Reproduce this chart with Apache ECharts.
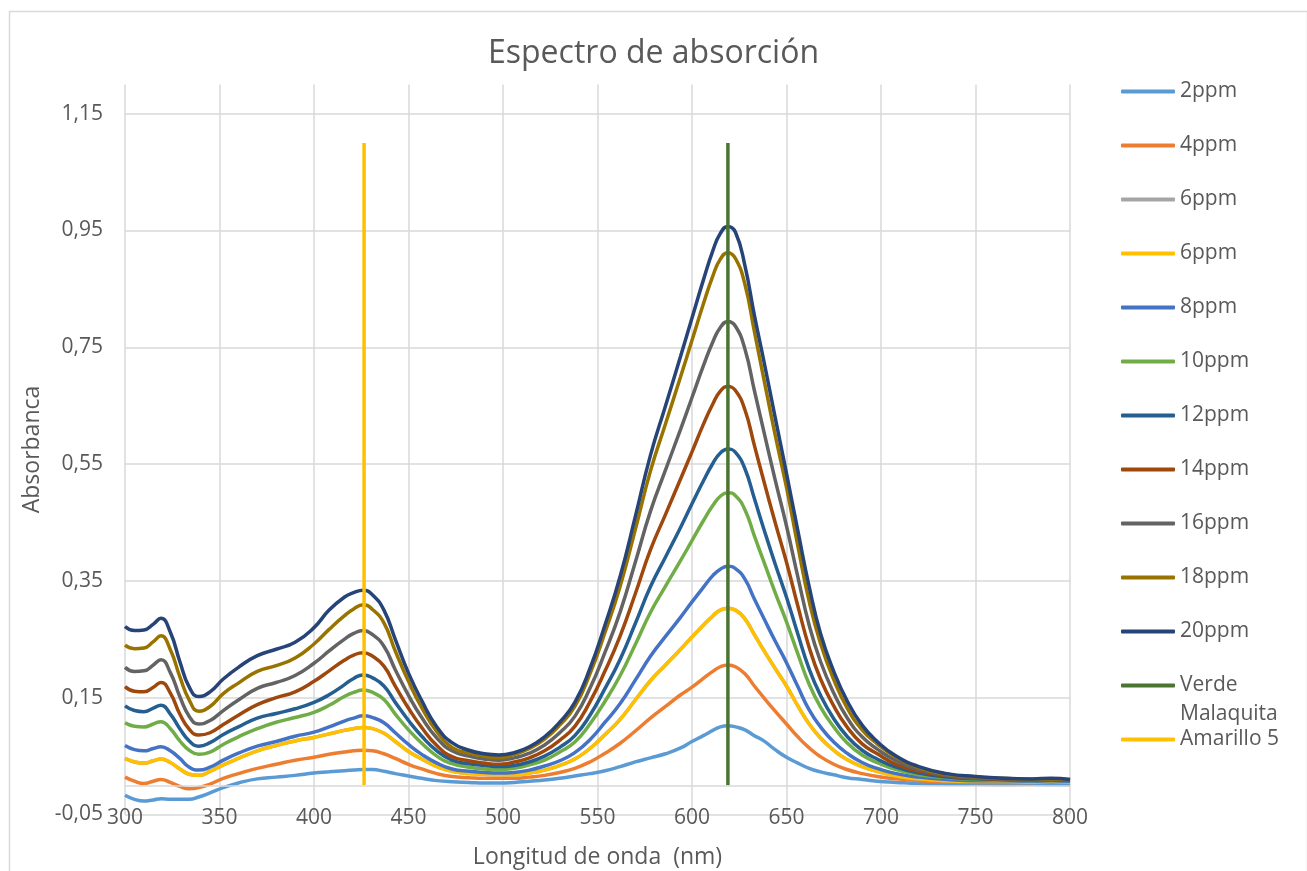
<!DOCTYPE html>
<html>
<head>
<meta charset="utf-8">
<script src="https://cdn.jsdelivr.net/npm/echarts@6/dist/echarts.min.js"></script>
<style>
html,body{margin:0;padding:0;background:#fff;}
#chart{width:1307px;height:871px;}
</style>
</head>
<body>
<div id="chart"></div>
<script>
// Wavelength grid (nm)
const wavelengths = [300, 305, 310, 315, 319, 324, 329, 334, 339, 345, 352, 360, 370, 380, 390, 400, 408, 416, 421, 426, 431, 437, 443, 450, 457, 465, 473, 482, 490, 498, 506, 514, 522, 530, 538, 546, 554, 562, 570, 578, 586, 594, 600, 606, 611, 615, 619, 623, 628, 633, 638, 644, 650, 656, 662, 668, 675, 682, 690, 698, 708, 720, 735, 750, 765, 780, 790, 800];

const s2ppm = [-0.017, -0.024, -0.027, -0.025, -0.023, -0.024, -0.024, -0.024, -0.020, -0.013, -0.004, 0.004, 0.011, 0.014, 0.017, 0.021, 0.023, 0.025, 0.026, 0.027, 0.027, 0.024, 0.020, 0.016, 0.012, 0.008, 0.006, 0.005, 0.004, 0.004,
  0.005, 0.007, 0.009, 0.012, 0.016, 0.020, 0.025, 0.032, 0.040, 0.047, 0.054, 0.064, 0.075, 0.085, 0.094, 0.100, 0.102, 0.100, 0.095, 0.085, 0.076, 0.061, 0.048, 0.038, 0.029, 0.023, 0.018, 0.013, 0.010, 0.007, 0.005, 0.003, 0.002, 0.002, 0.001, 0.002, 0.001, 0.001];
const s4ppm = [0.014, 0.007, 0.003, 0.007, 0.010, 0.005, -0.002, -0.006, -0.004, 0.002, 0.012, 0.020, 0.029, 0.036, 0.043, 0.048, 0.053, 0.057, 0.059, 0.060, 0.059, 0.054, 0.046, 0.036, 0.028, 0.020, 0.015, 0.013, 0.012, 0.012,
  0.012, 0.014, 0.017, 0.022, 0.029, 0.040, 0.055, 0.072, 0.093, 0.115, 0.135, 0.155, 0.168, 0.183, 0.195, 0.203, 0.206, 0.203, 0.191, 0.170, 0.150, 0.127, 0.105, 0.083, 0.064, 0.049, 0.036, 0.027, 0.020, 0.015, 0.011, 0.008, 0.006, 0.005, 0.005, 0.005, 0.006, 0.005];
const s6ppmGray = [0.046, 0.040, 0.038, 0.042, 0.045, 0.039, 0.028, 0.019, 0.017, 0.024, 0.035, 0.046, 0.059, 0.068, 0.076, 0.082, 0.088, 0.094, 0.097, 0.099, 0.097, 0.089, 0.075, 0.058, 0.045, 0.032, 0.024, 0.020, 0.019, 0.018,
  0.018, 0.021, 0.026, 0.034, 0.045, 0.063, 0.087, 0.113, 0.146, 0.179, 0.206, 0.233, 0.254, 0.274, 0.290, 0.300, 0.303, 0.300, 0.285, 0.258, 0.231, 0.200, 0.170, 0.136, 0.105, 0.081, 0.060, 0.044, 0.032, 0.024, 0.016, 0.011, 0.008, 0.007, 0.007, 0.006, 0.007, 0.006];
const s6ppm = [0.046, 0.040, 0.038, 0.042, 0.045, 0.039, 0.028, 0.019, 0.017, 0.024, 0.035, 0.046, 0.059, 0.068, 0.076, 0.082, 0.088, 0.094, 0.097, 0.099, 0.097, 0.089, 0.075, 0.058, 0.045, 0.032, 0.024, 0.020, 0.019, 0.018,
  0.018, 0.021, 0.026, 0.034, 0.045, 0.063, 0.087, 0.113, 0.146, 0.179, 0.206, 0.233, 0.254, 0.274, 0.290, 0.300, 0.303, 0.300, 0.285, 0.258, 0.231, 0.200, 0.170, 0.136, 0.105, 0.081, 0.060, 0.044, 0.032, 0.024, 0.016, 0.011, 0.008, 0.007, 0.007, 0.006, 0.007, 0.006];
const s8ppm = [0.068, 0.061, 0.059, 0.063, 0.066, 0.059, 0.046, 0.031, 0.026, 0.031, 0.043, 0.055, 0.067, 0.075, 0.084, 0.091, 0.100, 0.110, 0.115, 0.119, 0.116, 0.107, 0.090, 0.070, 0.053, 0.038, 0.028, 0.024, 0.022, 0.021,
  0.022, 0.026, 0.033, 0.042, 0.056, 0.078, 0.108, 0.140, 0.180, 0.221, 0.255, 0.288, 0.314, 0.339, 0.359, 0.370, 0.375, 0.371, 0.353, 0.319, 0.286, 0.247, 0.210, 0.169, 0.129, 0.100, 0.074, 0.055, 0.039, 0.029, 0.020, 0.014, 0.010, 0.008, 0.008, 0.007, 0.008, 0.007];
const s10ppm = [0.107, 0.101, 0.100, 0.105, 0.109, 0.097, 0.076, 0.060, 0.053, 0.057, 0.070, 0.083, 0.097, 0.108, 0.116, 0.125, 0.137, 0.152, 0.159, 0.163, 0.159, 0.147, 0.122, 0.095, 0.072, 0.050, 0.037, 0.031, 0.028, 0.027,
  0.029, 0.035, 0.043, 0.057, 0.074, 0.105, 0.144, 0.188, 0.241, 0.296, 0.341, 0.385, 0.419, 0.453, 0.479, 0.495, 0.501, 0.496, 0.472, 0.427, 0.383, 0.330, 0.280, 0.225, 0.173, 0.134, 0.100, 0.073, 0.052, 0.039, 0.027, 0.018, 0.013, 0.010, 0.009, 0.008, 0.009, 0.008];
const s12ppm = [0.136, 0.128, 0.126, 0.132, 0.137, 0.122, 0.097, 0.076, 0.067, 0.073, 0.087, 0.100, 0.115, 0.123, 0.131, 0.142, 0.155, 0.172, 0.183, 0.189, 0.184, 0.170, 0.142, 0.111, 0.084, 0.059, 0.043, 0.037, 0.034, 0.032,
  0.034, 0.040, 0.050, 0.065, 0.085, 0.120, 0.166, 0.216, 0.277, 0.340, 0.391, 0.442, 0.482, 0.521, 0.551, 0.569, 0.576, 0.570, 0.542, 0.491, 0.439, 0.379, 0.322, 0.259, 0.199, 0.154, 0.114, 0.084, 0.060, 0.045, 0.031, 0.021, 0.014, 0.011, 0.010, 0.009, 0.009, 0.008];
const s14ppm = [0.169, 0.161, 0.160, 0.168, 0.176, 0.158, 0.122, 0.096, 0.086, 0.090, 0.104, 0.120, 0.138, 0.150, 0.160, 0.178, 0.196, 0.214, 0.223, 0.227, 0.221, 0.204, 0.170, 0.132, 0.099, 0.068, 0.049, 0.042, 0.038, 0.036,
  0.040, 0.047, 0.059, 0.077, 0.101, 0.143, 0.196, 0.256, 0.328, 0.403, 0.464, 0.525, 0.571, 0.618, 0.653, 0.675, 0.683, 0.676, 0.643, 0.582, 0.521, 0.450, 0.382, 0.307, 0.236, 0.182, 0.136, 0.100, 0.071, 0.054, 0.036, 0.024, 0.016, 0.012, 0.010, 0.009, 0.010, 0.009];
const s16ppm = [0.202, 0.195, 0.196, 0.206, 0.215, 0.193, 0.152, 0.118, 0.105, 0.111, 0.128, 0.146, 0.166, 0.176, 0.188, 0.209, 0.230, 0.250, 0.260, 0.265, 0.258, 0.238, 0.198, 0.154, 0.116, 0.081, 0.059, 0.050, 0.045, 0.043,
  0.047, 0.055, 0.069, 0.090, 0.118, 0.166, 0.228, 0.297, 0.382, 0.469, 0.540, 0.610, 0.664, 0.718, 0.759, 0.784, 0.794, 0.786, 0.747, 0.676, 0.606, 0.523, 0.444, 0.357, 0.274, 0.212, 0.158, 0.116, 0.083, 0.062, 0.042, 0.027, 0.017, 0.013, 0.011, 0.010, 0.010, 0.009];
const s18ppm = [0.240, 0.234, 0.235, 0.246, 0.256, 0.232, 0.186, 0.146, 0.127, 0.135, 0.157, 0.175, 0.195, 0.205, 0.218, 0.242, 0.267, 0.290, 0.302, 0.309, 0.301, 0.278, 0.230, 0.178, 0.133, 0.092, 0.065, 0.055, 0.050, 0.047,
  0.053, 0.063, 0.079, 0.103, 0.135, 0.191, 0.262, 0.341, 0.438, 0.538, 0.619, 0.700, 0.762, 0.824, 0.872, 0.901, 0.912, 0.902, 0.858, 0.777, 0.696, 0.600, 0.510, 0.410, 0.315, 0.243, 0.181, 0.133, 0.095, 0.071, 0.048, 0.030, 0.019, 0.014, 0.012, 0.010, 0.011, 0.010];
const s20ppm = [0.272, 0.265, 0.266, 0.276, 0.286, 0.262, 0.212, 0.168, 0.152, 0.160, 0.182, 0.202, 0.222, 0.233, 0.245, 0.270, 0.300, 0.322, 0.330, 0.334, 0.326, 0.300, 0.250, 0.192, 0.145, 0.100, 0.073, 0.060, 0.054, 0.052,
  0.056, 0.066, 0.083, 0.108, 0.142, 0.200, 0.275, 0.358, 0.460, 0.565, 0.650, 0.735, 0.800, 0.865, 0.915, 0.945, 0.957, 0.947, 0.890, 0.805, 0.727, 0.630, 0.534, 0.436, 0.340, 0.260, 0.195, 0.145, 0.103, 0.075, 0.050, 0.032, 0.020, 0.015, 0.012, 0.011, 0.012, 0.010];

// Marker lines: wavelength and absorbance range
const verdeMalaquitaX = [619, 619];
const verdeMalaquitaY = [0, 1.1];
const amarillo5X = [426.5, 426.5];
const amarillo5Y = [0, 1.1];

const seriesNames = ['2ppm', '4ppm', '6ppm', '6ppm#2', '8ppm', '10ppm', '12ppm', '14ppm', '16ppm', '18ppm', '20ppm'];
const seriesValues = [s2ppm, s4ppm, s6ppmGray, s6ppm, s8ppm, s10ppm, s12ppm, s14ppm, s16ppm, s18ppm, s20ppm];
const seriesColors = ['#5B9BD5', '#ED7D31', '#A5A5A5', '#FFC000', '#4472C4', '#70AD47', '#255E91', '#9E480E', '#636363', '#997300', '#264478'];

const yTicksFmt = v => v.toFixed(2).replace('.', ',');

const chart = echarts.init(document.getElementById('chart'));

const series = seriesNames.map((name, i) => ({
  name: name,
  type: 'line',
  data: wavelengths.map((x, j) => [x, seriesValues[i][j]]),
  showSymbol: false,
  symbol: 'none',
  smooth: 0.5,
  lineStyle: { width: 3.5, color: seriesColors[i] },
  itemStyle: { color: seriesColors[i] },
  silent: true,
  animation: false
}));

series.unshift({
  name: 'zeroLine',
  type: 'line',
  data: [],
  silent: true,
  z: 1,
  markLine: {
    silent: true,
    symbol: 'none',
    label: { show: false },
    lineStyle: { color: '#d9d9d9', width: 1.5, type: 'solid' },
    data: [{ yAxis: 0 }],
    animation: false
  }
});

series.push({
  name: 'Verde Malaquita',
  type: 'line',
  data: verdeMalaquitaX.map((x, j) => [x, verdeMalaquitaY[j]]),
  showSymbol: false,
  symbol: 'none',
  lineStyle: { width: 3.5, color: '#4A7531' },
  itemStyle: { color: '#4A7531' },
  silent: true,
  animation: false
});
series.push({
  name: 'Amarillo 5',
  type: 'line',
  data: amarillo5X.map((x, j) => [x, amarillo5Y[j]]),
  showSymbol: false,
  symbol: 'none',
  lineStyle: { width: 3.5, color: '#FFC000' },
  itemStyle: { color: '#FFC000' },
  silent: true,
  animation: false
});

const legendNames = seriesNames.concat(['Verde Malaquita', 'Amarillo 5']);

chart.setOption({
  animation: false,
  backgroundColor: '#ffffff',
  textStyle: { fontFamily: 'Open Sans' },
  title: {
    text: 'Espectro de absorción',
    left: 'center',
    top: 33,
    textStyle: { fontFamily: 'Open Sans', fontSize: 32, fontWeight: 'normal', color: '#595959' }
  },
  grid: { left: 125, right: 237, top: 84.5, bottom: 56.5, containLabel: false, outerBoundsMode: 'none' },
  legend: {
    orient: 'vertical',
    left: 1121,
    top: 81,
    padding: 0,
    itemWidth: 54,
    itemHeight: 4,
    itemGap: 33,
    icon: 'roundRect',
    selectedMode: false,
    data: legendNames,
    formatter: n => n === 'Verde Malaquita' ? 'Verde' : n.replace('#2', ''),
    textStyle: { fontFamily: 'Open Sans', fontSize: 21, color: '#595959', lineHeight: 20 }
  },
  graphic: [
    {
      type: 'rect',
      left: 7, top: 9,
      shape: { x: 0, y: 0, width: 1298, height: 900 },
      style: { fill: 'none', stroke: '#d9d9d9', lineWidth: 1.5 },
      silent: true, z: -10
    },
    {
      type: 'text',
      left: 1180, top: 704,
      style: { text: 'Malaquita', font: '21px "Open Sans"', fill: '#595959' },
      silent: true
    }
  ],
  xAxis: {
    type: 'value',
    min: 300, max: 800, interval: 50,
    name: 'Longitud de onda  (nm)',
    nameLocation: 'middle',
    nameGap: 31,
    nameTextStyle: { fontFamily: 'Open Sans', fontSize: 23, color: '#595959' },
    axisLine: { show: false },
    axisTick: { show: false },
    axisLabel: { fontFamily: 'Open Sans', fontSize: 21, color: '#595959', margin: -7 },
    splitLine: { show: true, lineStyle: { color: '#d9d9d9', width: 1.5 } }
  },
  yAxis: {
    type: 'value',
    min: -0.05, max: 1.2, interval: 0.2,
    name: 'Absorbanca',
    nameLocation: 'middle',
    nameGap: 80,
    nameRotate: 90,
    nameTextStyle: { fontFamily: 'Open Sans', fontSize: 23, color: '#595959' },
    axisLine: { show: false },
    axisTick: { show: false },
    axisLabel: { fontFamily: 'Open Sans', fontSize: 21, color: '#595959', margin: 22, formatter: yTicksFmt, showMaxLabel: false },
    splitLine: { show: true, showMaxLine: false, lineStyle: { color: '#d9d9d9', width: 1.5 } }
  },
  series: series
});
</script>
</body>
</html>
